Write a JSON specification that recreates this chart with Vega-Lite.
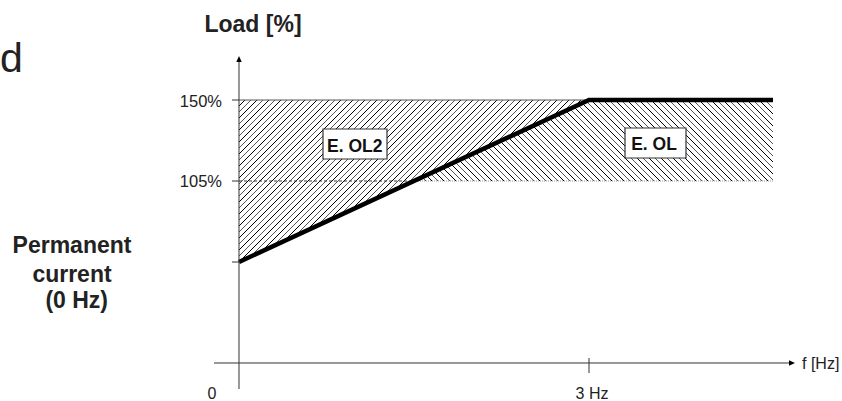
{
  "$schema": "https://vega.github.io/schema/vega-lite/v6.json",
  "width": 842,
  "height": 401,
  "autosize": {"type": "none"},
  "padding": 0,
  "background": "white",
  "config": {"view": {"stroke": null}, "font": "Liberation Sans"},
  "encoding": {
    "x": {"field": "x", "type": "quantitative", "scale": {"domain": [-2.04857, 5.16857], "nice": false, "zero": false}, "axis": null},
    "y": {"field": "y", "type": "quantitative", "scale": {"domain": [-17.2222, 205.5556], "nice": false, "zero": false}, "axis": null}
  },
  "layer": [
    {
      "data": {"values": [{"x": 0, "y": 60, "y2": 150}, {"x": 3, "y": 150, "y2": 150}]},
      "mark": {"type": "area", "fill": {"gradient": "linear", "x1": 0, "y1": 0, "x2": 1.20475, "y2": 0.55763, "stops": [
        {"offset":0.009766,"color":"#fff"},{"offset":0.011719,"color":"#000"},{"offset":0.013672,"color":"#fff"},
        {"offset":0.021484,"color":"#fff"},{"offset":0.023438,"color":"#555"},{"offset":0.025391,"color":"#fff"},
        {"offset":0.033203,"color":"#fff"},{"offset":0.035156,"color":"#000"},{"offset":0.037109,"color":"#fff"},
        {"offset":0.044922,"color":"#fff"},{"offset":0.046875,"color":"#555"},{"offset":0.048828,"color":"#fff"},
        {"offset":0.056641,"color":"#fff"},{"offset":0.058594,"color":"#000"},{"offset":0.060547,"color":"#fff"},
        {"offset":0.068359,"color":"#fff"},{"offset":0.070313,"color":"#555"},{"offset":0.072266,"color":"#fff"},
        {"offset":0.080078,"color":"#fff"},{"offset":0.082031,"color":"#000"},{"offset":0.083984,"color":"#fff"},
        {"offset":0.091797,"color":"#fff"},{"offset":0.09375,"color":"#555"},{"offset":0.095703,"color":"#fff"},
        {"offset":0.103516,"color":"#fff"},{"offset":0.105469,"color":"#000"},{"offset":0.107422,"color":"#fff"},
        {"offset":0.115234,"color":"#fff"},{"offset":0.117188,"color":"#555"},{"offset":0.119141,"color":"#fff"},
        {"offset":0.126953,"color":"#fff"},{"offset":0.128906,"color":"#000"},{"offset":0.130859,"color":"#fff"},
        {"offset":0.138672,"color":"#fff"},{"offset":0.140625,"color":"#555"},{"offset":0.142578,"color":"#fff"},
        {"offset":0.150391,"color":"#fff"},{"offset":0.152344,"color":"#000"},{"offset":0.154297,"color":"#fff"},
        {"offset":0.162109,"color":"#fff"},{"offset":0.164063,"color":"#555"},{"offset":0.166016,"color":"#fff"},
        {"offset":0.173828,"color":"#fff"},{"offset":0.175781,"color":"#000"},{"offset":0.177734,"color":"#fff"},
        {"offset":0.185547,"color":"#fff"},{"offset":0.1875,"color":"#555"},{"offset":0.189453,"color":"#fff"},
        {"offset":0.197266,"color":"#fff"},{"offset":0.199219,"color":"#000"},{"offset":0.201172,"color":"#fff"},
        {"offset":0.208984,"color":"#fff"},{"offset":0.210938,"color":"#555"},{"offset":0.212891,"color":"#fff"},
        {"offset":0.220703,"color":"#fff"},{"offset":0.222656,"color":"#000"},{"offset":0.224609,"color":"#fff"},
        {"offset":0.232422,"color":"#fff"},{"offset":0.234375,"color":"#555"},{"offset":0.236328,"color":"#fff"},
        {"offset":0.244141,"color":"#fff"},{"offset":0.246094,"color":"#000"},{"offset":0.248047,"color":"#fff"},
        {"offset":0.255859,"color":"#fff"},{"offset":0.257813,"color":"#555"},{"offset":0.259766,"color":"#fff"},
        {"offset":0.267578,"color":"#fff"},{"offset":0.269531,"color":"#000"},{"offset":0.271484,"color":"#fff"},
        {"offset":0.279297,"color":"#fff"},{"offset":0.28125,"color":"#555"},{"offset":0.283203,"color":"#fff"},
        {"offset":0.291016,"color":"#fff"},{"offset":0.292969,"color":"#000"},{"offset":0.294922,"color":"#fff"},
        {"offset":0.302734,"color":"#fff"},{"offset":0.304688,"color":"#555"},{"offset":0.306641,"color":"#fff"},
        {"offset":0.314453,"color":"#fff"},{"offset":0.316406,"color":"#000"},{"offset":0.318359,"color":"#fff"},
        {"offset":0.326172,"color":"#fff"},{"offset":0.328125,"color":"#555"},{"offset":0.330078,"color":"#fff"},
        {"offset":0.337891,"color":"#fff"},{"offset":0.339844,"color":"#000"},{"offset":0.341797,"color":"#fff"},
        {"offset":0.349609,"color":"#fff"},{"offset":0.351563,"color":"#555"},{"offset":0.353516,"color":"#fff"},
        {"offset":0.361328,"color":"#fff"},{"offset":0.363281,"color":"#000"},{"offset":0.365234,"color":"#fff"},
        {"offset":0.373047,"color":"#fff"},{"offset":0.375,"color":"#555"},{"offset":0.376953,"color":"#fff"},
        {"offset":0.384766,"color":"#fff"},{"offset":0.386719,"color":"#000"},{"offset":0.388672,"color":"#fff"},
        {"offset":0.396484,"color":"#fff"},{"offset":0.398438,"color":"#555"},{"offset":0.400391,"color":"#fff"},
        {"offset":0.408203,"color":"#fff"},{"offset":0.410156,"color":"#000"},{"offset":0.412109,"color":"#fff"},
        {"offset":0.419922,"color":"#fff"},{"offset":0.421875,"color":"#555"},{"offset":0.423828,"color":"#fff"},
        {"offset":0.431641,"color":"#fff"},{"offset":0.433594,"color":"#000"},{"offset":0.435547,"color":"#fff"},
        {"offset":0.443359,"color":"#fff"},{"offset":0.445313,"color":"#555"},{"offset":0.447266,"color":"#fff"},
        {"offset":0.455078,"color":"#fff"},{"offset":0.457031,"color":"#000"},{"offset":0.458984,"color":"#fff"},
        {"offset":0.466797,"color":"#fff"},{"offset":0.46875,"color":"#555"},{"offset":0.470703,"color":"#fff"},
        {"offset":0.478516,"color":"#fff"},{"offset":0.480469,"color":"#000"},{"offset":0.482422,"color":"#fff"},
        {"offset":0.490234,"color":"#fff"},{"offset":0.492188,"color":"#555"},{"offset":0.494141,"color":"#fff"},
        {"offset":0.501953,"color":"#fff"},{"offset":0.503906,"color":"#000"},{"offset":0.505859,"color":"#fff"},
        {"offset":0.513672,"color":"#fff"},{"offset":0.515625,"color":"#555"},{"offset":0.517578,"color":"#fff"},
        {"offset":0.525391,"color":"#fff"},{"offset":0.527344,"color":"#000"},{"offset":0.529297,"color":"#fff"},
        {"offset":0.537109,"color":"#fff"},{"offset":0.539063,"color":"#555"},{"offset":0.541016,"color":"#fff"},
        {"offset":0.548828,"color":"#fff"},{"offset":0.550781,"color":"#000"},{"offset":0.552734,"color":"#fff"},
        {"offset":0.560547,"color":"#fff"},{"offset":0.5625,"color":"#555"},{"offset":0.564453,"color":"#fff"},
        {"offset":0.572266,"color":"#fff"},{"offset":0.574219,"color":"#000"},{"offset":0.576172,"color":"#fff"},
        {"offset":0.583984,"color":"#fff"},{"offset":0.585938,"color":"#555"},{"offset":0.587891,"color":"#fff"},
        {"offset":0.595703,"color":"#fff"},{"offset":0.597656,"color":"#000"},{"offset":0.599609,"color":"#fff"},
        {"offset":0.607422,"color":"#fff"},{"offset":0.609375,"color":"#555"},{"offset":0.611328,"color":"#fff"},
        {"offset":0.619141,"color":"#fff"},{"offset":0.621094,"color":"#000"},{"offset":0.623047,"color":"#fff"},
        {"offset":0.630859,"color":"#fff"},{"offset":0.632813,"color":"#555"},{"offset":0.634766,"color":"#fff"},
        {"offset":0.642578,"color":"#fff"},{"offset":0.644531,"color":"#000"},{"offset":0.646484,"color":"#fff"},
        {"offset":0.654297,"color":"#fff"},{"offset":0.65625,"color":"#555"},{"offset":0.658203,"color":"#fff"},
        {"offset":0.666016,"color":"#fff"},{"offset":0.667969,"color":"#000"},{"offset":0.669922,"color":"#fff"},
        {"offset":0.677734,"color":"#fff"},{"offset":0.679688,"color":"#555"},{"offset":0.681641,"color":"#fff"}
      ]}},
      "encoding": {"y2": {"field": "y2"}}
    },
    {
      "data": {"values": [{"x": 1.5, "y": 105, "y2": 105}, {"x": 3, "y": 105, "y2": 150}, {"x": 4.57714, "y": 105, "y2": 150}]},
      "mark": {"type": "area", "fill": {"gradient": "linear", "x1": 0, "y1": 1, "x2": 1.16626, "y2": 0.73686, "stops": [
        {"offset":0.011364,"color":"#fff"},{"offset":0.013636,"color":"#000"},{"offset":0.015909,"color":"#fff"},
        {"offset":0.025,"color":"#fff"},{"offset":0.027273,"color":"#555"},{"offset":0.029545,"color":"#fff"},
        {"offset":0.038636,"color":"#fff"},{"offset":0.040909,"color":"#000"},{"offset":0.043182,"color":"#fff"},
        {"offset":0.052273,"color":"#fff"},{"offset":0.054545,"color":"#555"},{"offset":0.056818,"color":"#fff"},
        {"offset":0.065909,"color":"#fff"},{"offset":0.068182,"color":"#000"},{"offset":0.070455,"color":"#fff"},
        {"offset":0.079545,"color":"#fff"},{"offset":0.081818,"color":"#555"},{"offset":0.084091,"color":"#fff"},
        {"offset":0.093182,"color":"#fff"},{"offset":0.095455,"color":"#000"},{"offset":0.097727,"color":"#fff"},
        {"offset":0.106818,"color":"#fff"},{"offset":0.109091,"color":"#555"},{"offset":0.111364,"color":"#fff"},
        {"offset":0.120455,"color":"#fff"},{"offset":0.122727,"color":"#000"},{"offset":0.125,"color":"#fff"},
        {"offset":0.134091,"color":"#fff"},{"offset":0.136364,"color":"#555"},{"offset":0.138636,"color":"#fff"},
        {"offset":0.147727,"color":"#fff"},{"offset":0.15,"color":"#000"},{"offset":0.152273,"color":"#fff"},
        {"offset":0.161364,"color":"#fff"},{"offset":0.163636,"color":"#555"},{"offset":0.165909,"color":"#fff"},
        {"offset":0.175,"color":"#fff"},{"offset":0.177273,"color":"#000"},{"offset":0.179545,"color":"#fff"},
        {"offset":0.188636,"color":"#fff"},{"offset":0.190909,"color":"#555"},{"offset":0.193182,"color":"#fff"},
        {"offset":0.202273,"color":"#fff"},{"offset":0.204545,"color":"#000"},{"offset":0.206818,"color":"#fff"},
        {"offset":0.215909,"color":"#fff"},{"offset":0.218182,"color":"#555"},{"offset":0.220455,"color":"#fff"},
        {"offset":0.229545,"color":"#fff"},{"offset":0.231818,"color":"#000"},{"offset":0.234091,"color":"#fff"},
        {"offset":0.243182,"color":"#fff"},{"offset":0.245455,"color":"#555"},{"offset":0.247727,"color":"#fff"},
        {"offset":0.256818,"color":"#fff"},{"offset":0.259091,"color":"#000"},{"offset":0.261364,"color":"#fff"},
        {"offset":0.270455,"color":"#fff"},{"offset":0.272727,"color":"#555"},{"offset":0.275,"color":"#fff"},
        {"offset":0.284091,"color":"#fff"},{"offset":0.286364,"color":"#000"},{"offset":0.288636,"color":"#fff"},
        {"offset":0.297727,"color":"#fff"},{"offset":0.3,"color":"#555"},{"offset":0.302273,"color":"#fff"},
        {"offset":0.311364,"color":"#fff"},{"offset":0.313636,"color":"#000"},{"offset":0.315909,"color":"#fff"},
        {"offset":0.325,"color":"#fff"},{"offset":0.327273,"color":"#555"},{"offset":0.329545,"color":"#fff"},
        {"offset":0.338636,"color":"#fff"},{"offset":0.340909,"color":"#000"},{"offset":0.343182,"color":"#fff"},
        {"offset":0.352273,"color":"#fff"},{"offset":0.354545,"color":"#555"},{"offset":0.356818,"color":"#fff"},
        {"offset":0.365909,"color":"#fff"},{"offset":0.368182,"color":"#000"},{"offset":0.370455,"color":"#fff"},
        {"offset":0.379545,"color":"#fff"},{"offset":0.381818,"color":"#555"},{"offset":0.384091,"color":"#fff"},
        {"offset":0.393182,"color":"#fff"},{"offset":0.395455,"color":"#000"},{"offset":0.397727,"color":"#fff"},
        {"offset":0.406818,"color":"#fff"},{"offset":0.409091,"color":"#555"},{"offset":0.411364,"color":"#fff"},
        {"offset":0.420455,"color":"#fff"},{"offset":0.422727,"color":"#000"},{"offset":0.425,"color":"#fff"},
        {"offset":0.434091,"color":"#fff"},{"offset":0.436364,"color":"#555"},{"offset":0.438636,"color":"#fff"},
        {"offset":0.447727,"color":"#fff"},{"offset":0.45,"color":"#000"},{"offset":0.452273,"color":"#fff"},
        {"offset":0.461364,"color":"#fff"},{"offset":0.463636,"color":"#555"},{"offset":0.465909,"color":"#fff"},
        {"offset":0.475,"color":"#fff"},{"offset":0.477273,"color":"#000"},{"offset":0.479545,"color":"#fff"},
        {"offset":0.488636,"color":"#fff"},{"offset":0.490909,"color":"#555"},{"offset":0.493182,"color":"#fff"},
        {"offset":0.502273,"color":"#fff"},{"offset":0.504545,"color":"#000"},{"offset":0.506818,"color":"#fff"},
        {"offset":0.515909,"color":"#fff"},{"offset":0.518182,"color":"#555"},{"offset":0.520455,"color":"#fff"},
        {"offset":0.529545,"color":"#fff"},{"offset":0.531818,"color":"#000"},{"offset":0.534091,"color":"#fff"},
        {"offset":0.543182,"color":"#fff"},{"offset":0.545455,"color":"#555"},{"offset":0.547727,"color":"#fff"},
        {"offset":0.556818,"color":"#fff"},{"offset":0.559091,"color":"#000"},{"offset":0.561364,"color":"#fff"},
        {"offset":0.570455,"color":"#fff"},{"offset":0.572727,"color":"#555"},{"offset":0.575,"color":"#fff"},
        {"offset":0.584091,"color":"#fff"},{"offset":0.586364,"color":"#000"},{"offset":0.588636,"color":"#fff"},
        {"offset":0.597727,"color":"#fff"},{"offset":0.6,"color":"#555"},{"offset":0.602273,"color":"#fff"},
        {"offset":0.611364,"color":"#fff"},{"offset":0.613636,"color":"#000"},{"offset":0.615909,"color":"#fff"},
        {"offset":0.625,"color":"#fff"},{"offset":0.627273,"color":"#555"},{"offset":0.629545,"color":"#fff"},
        {"offset":0.638636,"color":"#fff"},{"offset":0.640909,"color":"#000"},{"offset":0.643182,"color":"#fff"},
        {"offset":0.652273,"color":"#fff"},{"offset":0.654545,"color":"#555"},{"offset":0.656818,"color":"#fff"},
        {"offset":0.665909,"color":"#fff"},{"offset":0.668182,"color":"#000"},{"offset":0.670455,"color":"#fff"},
        {"offset":0.679545,"color":"#fff"},{"offset":0.681818,"color":"#555"},{"offset":0.684091,"color":"#fff"},
        {"offset":0.693182,"color":"#fff"},{"offset":0.695455,"color":"#000"},{"offset":0.697727,"color":"#fff"},
        {"offset":0.706818,"color":"#fff"},{"offset":0.709091,"color":"#555"},{"offset":0.711364,"color":"#fff"},
        {"offset":0.720455,"color":"#fff"},{"offset":0.722727,"color":"#000"},{"offset":0.725,"color":"#fff"},
        {"offset":0.734091,"color":"#fff"},{"offset":0.736364,"color":"#555"},{"offset":0.738636,"color":"#fff"},
        {"offset":0.747727,"color":"#fff"},{"offset":0.75,"color":"#000"},{"offset":0.752273,"color":"#fff"},
        {"offset":0.761364,"color":"#fff"},{"offset":0.763636,"color":"#555"},{"offset":0.765909,"color":"#fff"},
        {"offset":0.775,"color":"#fff"},{"offset":0.777273,"color":"#000"},{"offset":0.779545,"color":"#fff"},
        {"offset":0.788636,"color":"#fff"},{"offset":0.790909,"color":"#555"},{"offset":0.793182,"color":"#fff"},
        {"offset":0.802273,"color":"#fff"},{"offset":0.804545,"color":"#000"},{"offset":0.806818,"color":"#fff"},
        {"offset":0.815909,"color":"#fff"},{"offset":0.818182,"color":"#555"},{"offset":0.820455,"color":"#fff"},
        {"offset":0.829545,"color":"#fff"},{"offset":0.831818,"color":"#000"},{"offset":0.834091,"color":"#fff"},
        {"offset":0.843182,"color":"#fff"},{"offset":0.845455,"color":"#555"},{"offset":0.847727,"color":"#fff"},
        {"offset":0.856818,"color":"#fff"},{"offset":0.859091,"color":"#000"},{"offset":0.861364,"color":"#fff"},
        {"offset":0.870455,"color":"#fff"},{"offset":0.872727,"color":"#555"},{"offset":0.875,"color":"#fff"},
        {"offset":0.884091,"color":"#fff"},{"offset":0.886364,"color":"#000"},{"offset":0.888636,"color":"#fff"},
        {"offset":0.897727,"color":"#fff"},{"offset":0.9,"color":"#555"},{"offset":0.902273,"color":"#fff"},
        {"offset":0.911364,"color":"#fff"},{"offset":0.913636,"color":"#000"},{"offset":0.915909,"color":"#fff"},
        {"offset":0.925,"color":"#fff"},{"offset":0.927273,"color":"#555"},{"offset":0.929545,"color":"#fff"},
        {"offset":0.938636,"color":"#fff"},{"offset":0.940909,"color":"#000"},{"offset":0.943182,"color":"#fff"},
        {"offset":0.952273,"color":"#fff"},{"offset":0.954545,"color":"#555"},{"offset":0.956818,"color":"#fff"},
        {"offset":0.965909,"color":"#fff"},{"offset":0.968182,"color":"#000"},{"offset":0.970455,"color":"#fff"},
        {"offset":0.979545,"color":"#fff"},{"offset":0.981818,"color":"#555"},{"offset":0.984091,"color":"#fff"},
        {"offset":0.993182,"color":"#fff"},{"offset":0.995455,"color":"#000"},{"offset":0.997727,"color":"#fff"}
      ]}},
      "encoding": {"y2": {"field": "y2"}}
    },
    {
      "data": {"values": [{"x": 0, "x2": 3, "y": 150}]},
      "mark": {"type": "rule", "color": "#555", "strokeWidth": 1},
      "encoding": {"x2": {"field": "x2"}}
    },
    {
      "data": {"values": [{"x": 0, "x2": 1.5, "y": 105}]},
      "mark": {"type": "rule", "color": "#333", "strokeWidth": 1, "strokeDash": [3, 2]},
      "encoding": {"x2": {"field": "x2"}}
    },
    {
      "data": {"values": [{"x": 1.5, "x2": 4.57714, "y": 105}]},
      "mark": {"type": "rule", "color": "#999", "strokeWidth": 1, "strokeDash": [1, 1]},
      "encoding": {"x2": {"field": "x2"}}
    },
    {
      "data": {"values": [{"x": 0, "y": 60}, {"x": 3, "y": 150}, {"x": 4.57714, "y": 150}]},
      "mark": {"type": "line", "color": "#000", "strokeWidth": 4.5, "strokeCap": "butt", "strokeJoin": "miter"}
    },
    {
      "data": {"values": [{"x": 0.72, "x2": 1.2686, "y": 133.89, "y2": 117.22}, {"x": 3.3086, "x2": 3.8314, "y": 134.44, "y2": 117.78}]},
      "mark": {"type": "rect", "fill": "#fff", "stroke": "#333", "strokeWidth": 1.2},
      "encoding": {"x2": {"field": "x2"}, "y2": {"field": "y2"}}
    },
    {
      "data": {"values": [{"x": -0.2143, "x2": 4.74, "y": 3.889}, {"x": -0.06, "x2": 0, "y": 150}, {"x": -0.06, "x2": 0, "y": 105}, {"x": -0.06, "x2": 0, "y": 60}]},
      "mark": {"type": "rule", "color": "#333", "strokeWidth": 1},
      "encoding": {"x2": {"field": "x2"}}
    },
    {
      "data": {"values": [{"x": 0, "y": -10.556, "y2": 172.78}, {"x": 3, "y": -1.667, "y2": 6.667}]},
      "mark": {"type": "rule", "color": "#333", "strokeWidth": 1},
      "encoding": {"y2": {"field": "y2"}}
    },
    {
      "data": {"values": [{"x": 0, "y": 172.78}]},
      "mark": {"type": "point", "shape": "M0,-1L-0.9,1L0.9,1Z", "size": 36, "filled": true, "color": "#000", "opacity": 1}
    },
    {
      "data": {"values": [{"x": 4.74, "y": 3.889}]},
      "mark": {"type": "point", "shape": "M1,0L-1,-0.9L-1,0.9Z", "size": 36, "filled": true, "color": "#000", "opacity": 1}
    },
    {
      "data": {"values": [{"x": 0.12, "y": 187.78, "t": "Load [%]"}, {"x": -1.4314, "y": 65, "t": "Permanent"}, {"x": -1.4314, "y": 48.89, "t": "current"}, {"x": -1.391, "y": 34.44, "t": "(0 Hz)"}]},
      "mark": {"type": "text", "align": "center", "baseline": "alphabetic", "fontSize": 23, "fontWeight": "bold", "color": "#222"},
      "encoding": {"text": {"field": "t"}}
    },
    {
      "data": {"values": [{"x": -1.853, "y": 165.56, "t": "d"}]},
      "mark": {"type": "text", "align": "right", "baseline": "alphabetic", "fontSize": 41, "color": "#222"},
      "encoding": {"text": {"field": "t"}}
    },
    {
      "data": {"values": [{"x": -0.1457, "y": 148.89, "t": "150%"}, {"x": -0.1457, "y": 104.44, "t": "105%"}]},
      "mark": {"type": "text", "align": "right", "baseline": "middle", "fontSize": 16.5, "color": "#222"},
      "encoding": {"text": {"field": "t"}}
    },
    {
      "data": {"values": [{"x": -0.2314, "y": -13.33, "t": "0"}, {"x": 3.0257, "y": -13.33, "t": "3 Hz"}]},
      "mark": {"type": "text", "align": "center", "baseline": "middle", "fontSize": 16, "color": "#222"},
      "encoding": {"text": {"field": "t"}}
    },
    {
      "data": {"values": [{"x": 4.8257, "y": 3.33, "t": "f [Hz]"}]},
      "mark": {"type": "text", "align": "left", "baseline": "middle", "fontSize": 16, "color": "#222"},
      "encoding": {"text": {"field": "t"}}
    },
    {
      "data": {"values": [{"x": 0.9917, "y": 123.9, "t": "E. OL2"}, {"x": 3.5571, "y": 125, "t": "E. OL"}]},
      "mark": {"type": "text", "align": "center", "baseline": "middle", "fontSize": 17.5, "fontWeight": "bold", "color": "#111"},
      "encoding": {"text": {"field": "t"}}
    }
  ]
}
